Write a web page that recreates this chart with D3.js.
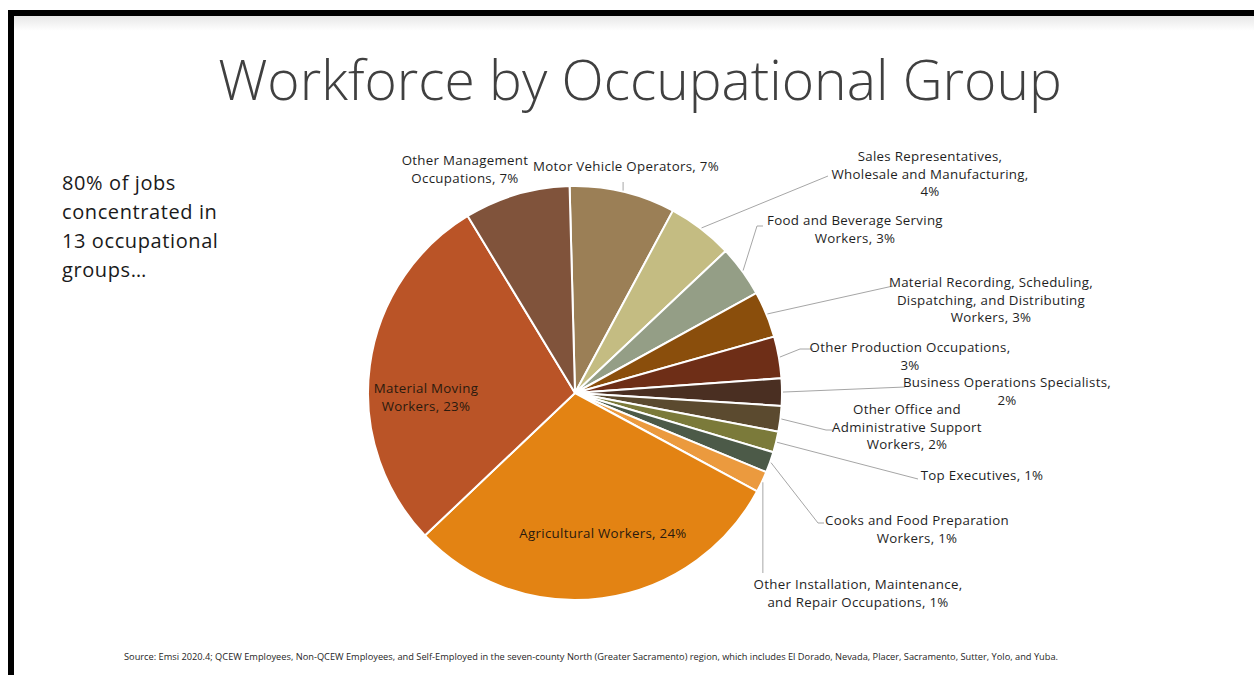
<!DOCTYPE html>
<html>
<head>
<meta charset="utf-8">
<script src="https://cdn.jsdelivr.net/npm/d3@7"></script>
<style>
  body { margin: 0; background: #fff; }
  #chart { width: 1254px; height: 675px; }
  text { font-family: "Open Sans", "Noto Sans", sans-serif; }
</style>
</head>
<body>
<div id="chart"></div>
<script>
// occupational groups, clockwise from 12 o'clock
const groups = [
  "Motor Vehicle Operators",
  "Sales Representatives, Wholesale and Manufacturing",
  "Food and Beverage Serving Workers",
  "Material Recording, Scheduling, Dispatching, and Distributing Workers",
  "Other Production Occupations",
  "Business Operations Specialists",
  "Other Office and Administrative Support Workers",
  "Top Executives",
  "Cooks and Food Preparation Workers",
  "Other Installation, Maintenance, and Repair Occupations",
  "Agricultural Workers",
  "Material Moving Workers",
  "Other Management Occupations"
];
// share of total workforce (%)
const shares = [6.6, 4.1, 3.2, 2.9, 2.6, 1.7, 1.6, 1.3, 1.3, 1.3, 24.0, 22.7, 6.6];
const colors = ["#9b7f56", "#c4bc82", "#949e86", "#8a4e0c", "#6e2e17", "#4a2f22",
                "#5b4a2f", "#7b7a3a", "#4c5a48", "#eb9a3e", "#e38313", "#ba5427", "#80533b"];
// label text lines (the percent is appended to the last line)
const labelLines = [
  ["Motor Vehicle Operators,"],
  ["Sales Representatives,", "Wholesale and Manufacturing,", ""],
  ["Food and Beverage Serving", "Workers,"],
  ["Material Recording, Scheduling,", "Dispatching, and Distributing", "Workers,"],
  ["Other Production Occupations,", ""],
  ["Business Operations Specialists,", ""],
  ["Other Office and", "Administrative Support", "Workers,"],
  ["Top Executives,"],
  ["Cooks and Food Preparation", "Workers,"],
  ["Other Installation, Maintenance,", "and Repair Occupations,"],
  ["Agricultural Workers,"],
  ["Material Moving", "Workers,"],
  ["Other Management", "Occupations,"]
];
const sideNote = ["80% of jobs", "concentrated in", "13 occupational", "groups\u2026"];
const title = "Workforce by Occupational Group";
const source = "Source:  Emsi 2020.4; QCEW Employees, Non-QCEW Employees, and Self-Employed in the seven-county North (Greater Sacramento) region, which includes El Dorado, Nevada, Placer, Sacramento, Sutter, Yolo, and Yuba.";

// label placement: text centre x, first baseline y, leader elbow points (none = no leader)
const labelLayout = [
  { x: 626, y: 171, leader: "up" },
  { x: 930, y: 161, leader: [[828, 176]] },
  { x: 855, y: 225, leader: [[757, 226], [763, 226]] },
  { x: 991, y: 287, leader: [[893, 286]] },
  { x: 910, y: 352, leader: [[800, 349], [813, 349]] },
  { x: 1007, y: 387, leader: [[905, 387]] },
  { x: 907, y: 414, leader: [[826, 430], [833, 430]] },
  { x: 982, y: 480, leader: [[918, 479]] },
  { x: 917, y: 525, leader: [[818, 523], [824, 523]] },
  { x: 858, y: 589, leader: "down" },
  { x: 603, y: 538, leader: null },
  { x: 426, y: 393, leader: null },
  { x: 465, y: 165, leader: null }
];

const width = 1254, height = 675;
const cx = 575, cy = 393, radius = 207;

const svg = d3.select("#chart").append("svg")
  .attr("width", width)
  .attr("height", height);

// slide frame with soft shadow under the top bar
const defs = svg.append("defs");
const grad = defs.append("linearGradient").attr("id", "shade").attr("x1", 0).attr("x2", 0).attr("y1", 0).attr("y2", 1);
grad.append("stop").attr("offset", 0).attr("stop-color", "#e6e6e6");
grad.append("stop").attr("offset", 1).attr("stop-color", "#ffffff");
svg.append("rect").attr("x", 8).attr("y", 15).attr("width", width).attr("height", 16).attr("fill", "url(#shade)");
svg.append("rect").attr("x", 8).attr("y", 10).attr("width", width).attr("height", 6).attr("fill", "#000");
svg.append("rect").attr("x", 8).attr("y", 10).attr("width", 6).attr("height", height).attr("fill", "#000");

// title, scaled to the slide's title width
const t = svg.append("text")
  .attr("x", 640).attr("y", 100)
  .attr("text-anchor", "middle")
  .attr("fill", "#404040")
  .style("font-weight", 300)
  .style("font-size", "56px")
  .text(title);
const tw = t.node().getComputedTextLength();
t.style("font-size", (56 * 844 / tw) + "px");

// side note
svg.append("g").selectAll("text")
  .data(sideNote)
  .join("text")
  .attr("x", 62)
  .attr("y", (d, i) => 190 + i * 29)
  .attr("fill", "#1a1a1a")
  .style("font-size", "20px")
  .style("letter-spacing", "0.6px")
  .text(d => d);

// pie
const pie = d3.pie().sort(null)
  .startAngle(-1.5 * Math.PI / 180)
  .endAngle(2 * Math.PI - 1.5 * Math.PI / 180)
  .value(d => d);
const arcs = pie(shares);
const arc = d3.arc().innerRadius(0).outerRadius(radius);

const g = svg.append("g").attr("transform", `translate(${cx},${cy})`);
g.selectAll("path")
  .data(arcs)
  .join("path")
  .attr("d", arc)
  .attr("fill", (d, i) => colors[i])
  .attr("stroke", "#fff")
  .attr("stroke-width", 2)
  .attr("stroke-linejoin", "round");

// leader lines
const edgePoint = d => {
  const a = (d.startAngle + d.endAngle) / 2;
  return [cx + (radius + 1) * Math.sin(a), cy - (radius + 1) * Math.cos(a)];
};
const line = d3.line();
svg.append("g")
  .attr("fill", "none")
  .attr("stroke", "#a6a6a6")
  .attr("stroke-width", 1)
  .selectAll("path")
  .data(arcs.filter((d, i) => labelLayout[i].leader))
  .join("path")
  .attr("d", d => {
    const lay = labelLayout[d.index];
    const p = edgePoint(d);
    if (lay.leader === "up") return line([p, [p[0], 182]]);
    if (lay.leader === "down") return line([p, [p[0], 573]]);
    return line([p, ...lay.leader]);
  });

// labels
const pct = v => Math.round(v) + "%";
const labels = svg.append("g")
  .style("font-size", "13.3px")
  .style("letter-spacing", "0.3px")
  .selectAll("text")
  .data(arcs)
  .join("text")
  .attr("text-anchor", "middle")
  .attr("fill", (d, i) => i === 10 || i === 11 ? "#2a1a0e" : "#1f1f1f");

labels.selectAll("tspan")
  .data(d => labelLines[d.index].map((s, j, arr) => {
    const last = j === arr.length - 1;
    return { text: last ? (s ? s + " " : "") + pct(d.value) : s, x: labelLayout[d.index].x, y: labelLayout[d.index].y + j * 17.5 };
  }))
  .join("tspan")
  .attr("x", d => d.x)
  .attr("y", d => d.y)
  .text(d => d.text);

// source note
const s = svg.append("text")
  .attr("x", 591).attr("y", 660)
  .attr("text-anchor", "middle")
  .attr("fill", "#262626")
  .style("font-size", "9px")
  .text(source);
const sw = s.node().getComputedTextLength();
s.style("font-size", (9 * 934 / sw) + "px");
</script>
</body>
</html>
